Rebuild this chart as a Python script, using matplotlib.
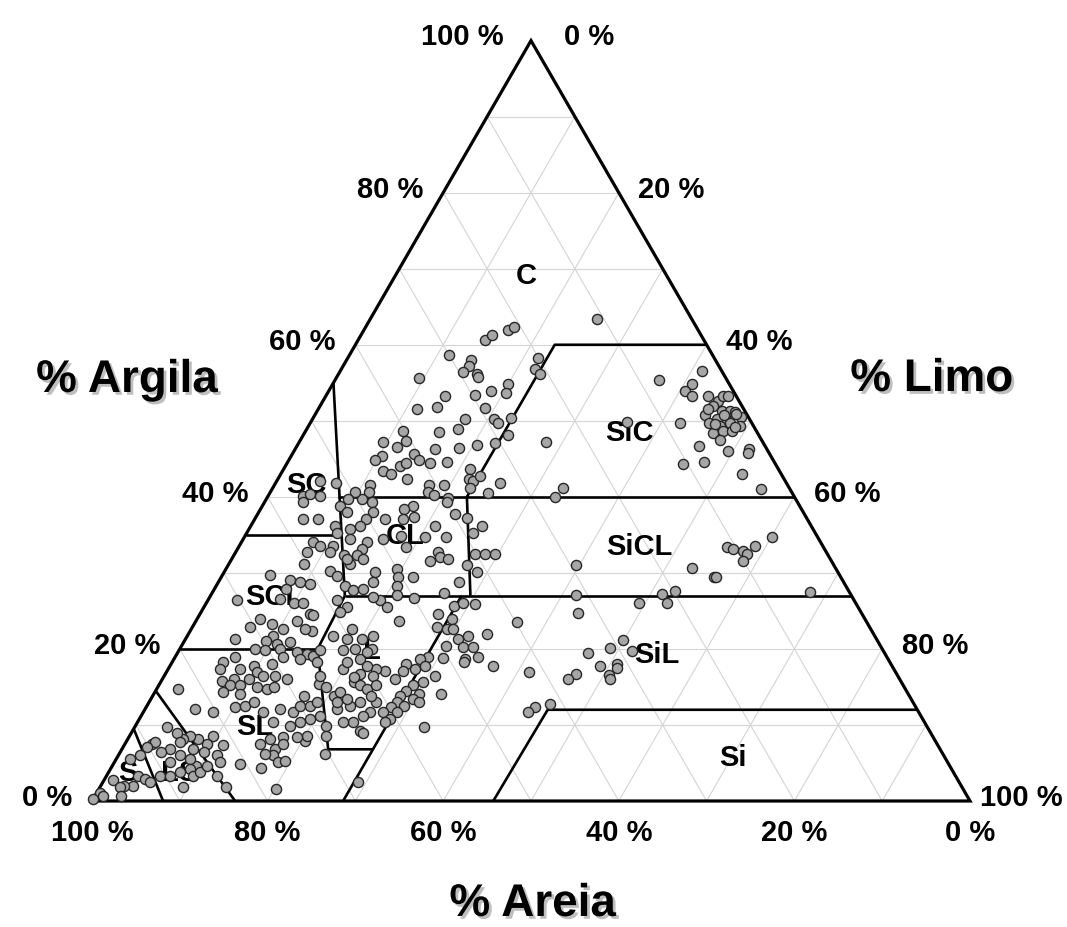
import numpy as np
import matplotlib
matplotlib.use("Agg")
import matplotlib.pyplot as plt
import matplotlib.patheffects as pe

plt.rcParams['font.family'] = ['Liberation Sans', 'DejaVu Sans']

# soil samples as (clay %, silt %); sand = 100 - clay - silt
clay_samples = [
    (60.6, 14.5), (61.3, 14.9), (61.9, 16.4), (62.4, 16.9), (63.4, 25.8), (58.6, 11.4),
    (58.0, 14.2), (57.2, 14.3), (56.4, 14.0), (56.2, 15.7), (55.7, 16.1), (58.2, 21.7),
    (56.8, 22.1), (56.2, 22.9), (55.6, 9.5), (54.9, 19.9), (53.6, 20.4), (53.4, 16.9),
    (53.9, 18.5), (53.3, 13.6), (51.5, 11.3), (51.8, 13.4), (51.7, 18.9), (50.3, 17.3),
    (48.9, 17.2), (50.3, 20.6), (49.7, 21.4), (50.4, 22.5), (48.1, 23.3), (47.2, 28.1),
    (48.5, 15.3), (48.7, 11.1), (47.4, 12.1), (47.2, 9.5), (46.5, 11.5), (45.4, 10.3),
    (44.8, 9.8), (43.4, 11.5), (43.0, 12.6), (44.1, 13.0), (44.5, 13.5), (45.7, 13.8),
    (44.8, 14.8), (44.5, 16.2), (46.3, 15.9), (44.6, 18.1), (46.4, 18.6), (46.8, 20.4),
    (47.1, 22.4), (43.7, 21.2), (42.4, 21.7), (42.1, 22.3), (42.8, 22.8), (41.1, 22.5),
    (41.8, 25.6), (40.5, 24.9), (40.0, 32.7), (41.1, 33.1), (42.4, 14.7), (41.5, 17.6),
    (41.5, 19.3), (40.6, 18.0), (40.2, 18.8), (39.8, 20.7), (39.3, 20.8), (37.8, 22.4),
    (37.2, 24.1), (36.2, 26.3), (35.3, 25.7), (32.5, 27.4), (32.5, 28.5), (32.5, 29.6),
    (31.0, 27.2), (30.1, 28.8), (34.7, 20.6), (36.2, 21.0), (34.7, 23.0), (32.7, 23.1),
    (32.1, 23.6), (31.6, 22.7), (31.8, 24.7), (38.8, 17.2), (38.4, 16.3), (37.3, 18.0),
    (37.1, 16.9), (33.4, 19.1), (34.9, 17.8), (34.5, 15.9), (37.1, 14.8), (41.5, 10.9),
    (40.6, 11.2), (39.7, 10.9), (39.3, 12.2), (38.0, 13.0), (37.1, 12.7), (36.2, 12.4),
    (34.0, 14.3), (33.2, 14.1), (32.3, 14.0), (31.2, 13.8), (31.8, 15.0), (30.1, 17.2),
    (30.5, 19.5), (29.4, 21.9), (38.8, 8.8), (38.0, 10.0), (36.2, 9.6), (35.3, 10.2),
    (35.8, 11.5), (34.5, 12.1), (32.3, 12.5), (33.6, 10.7), (32.7, 10.8), (37.1, 7.2),
    (34.0, 8.2), (33.6, 9.2), (32.7, 8.1), (37.1, 5.5), (40.1, 4.0), (42.1, 4.9),
    (41.8, 6.9), (40.6, 9.6), (39.7, 9.3), (40.4, 4.6), (40.1, 5.9), (39.3, 4.4),
    (31.2, 8.5), (31.8, 13.1),
]

silty_clay_samples = [
    (56.6, 41.2), (55.4, 36.9), (54.9, 40.85), (53.9, 40.6), (53.2, 41.7), (49.9, 36.0),
    (49.7, 42.1), (46.7, 45.75), (44.3, 45.15), (44.6, 47.4), (46.05, 49.4), (46.3, 51.65),
    (45.8, 51.8), (43.0, 52.5), (41.05, 55.7), (53.2, 43.6), (52.6, 45.0), (53.3, 45.25),
    (53.2, 45.8), (52.0, 44.7), (51.3, 46.1), (51.3, 47.05), (51.2, 47.6), (50.8, 44.4),
    (50.3, 46.05), (50.0, 47.3), (50.5, 48.65), (49.7, 45.45), (49.3, 46.85), (49.7, 47.85),
    (49.3, 49.15), (48.4, 46.5), (48.7, 47.55), (48.7, 48.55), (47.5, 47.75), (50.9, 47.85),
    (50.7, 46.6), (49.6, 46.2), (49.2, 48.6), (51.6, 44.4),
    (33.4, 55.6), (33.2, 56.4), (32.9, 57.65), (33.55, 58.7), (34.7, 60.05), (32.5, 58.35),
]

loam_samples = [
    (30.3, 11.95), (29.4, 20.2), (28.8, 27.4), (28.3, 20.55), (27.1, 21.15), (26.4, 19.6),
    (25.5, 20.85), (26.7, 23.35), (27.3, 26.45), (25.7, 28.35), (26.1, 29.25), (25.9, 30.65),
    (22.4, 13.8), (23.7, 23.15), (24.6, 27.1), (22.9, 27.85), (22.6, 29.1), (23.9, 29.05),
    (22.6, 29.8), (21.75, 16.6), (21.3, 20.05), (20.0, 19.95), (20.0, 21.9), (21.3, 31.05),
    (21.75, 32.0), (20.2, 32.2), (20.2, 33.3), (18.9, 34.55), (20.35, 30.2), (18.8, 30.6),
    (18.7, 33.15), (18.25, 33.2), (19.0, 28.8), (18.7, 28.0), (18.0, 26.8), (17.4, 28.1),
    (17.8, 29.0), (17.1, 26.9), (16.05, 26.5), (17.1, 24.8), (17.4, 23.7), (16.4, 30.9),
    (15.6, 29.9), (15.2, 29.0), (14.1, 30.15), (14.5, 28.55), (13.85, 28.2), (14.1, 32.75),
    (13.0, 28.2), (12.3, 27.95), (11.7, 27.35), (12.5, 29.25), (13.4, 29.9), (13.0, 30.7),
    (11.7, 28.85), (10.8, 28.5), (10.35, 28.2), (15.6, 22.0), (16.7, 22.15), (15.2, 22.9),
    (14.7, 23.95), (12.1, 21.85), (12.5, 23.15), (11.7, 25.85), (11.2, 25.3), (10.35, 24.6),
    (10.35, 23.4), (9.2, 25.9), (9.0, 26.4), (15.4, 18.1), (13.0, 25.9), (7.9, 20.3),
    (9.7, 32.95), (2.5, 29.1),
]

sandy_samples = [
    (29.7, 5.4), (29.0, 8.1), (28.8, 9.3), (28.6, 10.5), (27.9, 8.2), (26.6, 8.1),
    (26.1, 9.9), (26.1, 11.0), (26.4, 3.3), (23.9, 7.2), (23.3, 8.8), (22.9, 6.5),
    (24.6, 12.5), (24.4, 13.0), (23.7, 11.5), (22.6, 13.0), (22.6, 10.5), (21.75, 9.7),
    (29.6, 13.1), (28.3, 14.7), (27.7, 15.9), (27.9, 16.95), (28.8, 17.6), (26.8, 18.6),
    (26.4, 14.7), (25.5, 16.25), (24.8, 15.8), (21.3, 5.6), (21.1, 9.3), (20.7, 10.7),
    (20.9, 12.1), (20.0, 8.6), (19.8, 9.8), (20.0, 11.4), (18.9, 12.35), (18.0, 11.5),
    (19.6, 13.5), (19.3, 14.8), (19.1, 15.65), (19.8, 16.1), (18.25, 16.5), (18.7, 14.35),
    (19.0, 6.8), (17.8, 9.5), (18.25, 5.8), (17.4, 5.9), (17.4, 8.2), (16.9, 10.3),
    (16.5, 11.25), (16.5, 12.6), (16.05, 14.2), (16.05, 9.8), (16.05, 8.1), (15.8, 6.9),
    (15.2, 8.1), (15.2, 9.3), (14.95, 11.3), (14.7, 12.55), (14.95, 13.3), (14.1, 9.85),
    (14.3, 7.8), (16.5, 17.7), (14.95, 19.2), (13.85, 20.6), (14.3, 21.1), (13.0, 21.4),
    (13.4, 22.3), (13.0, 24.0), (13.85, 24.8), (16.25, 21.7), (17.4, 19.9), (18.25, 19.9),
    (18.7, 21.15), (17.8, 22.4), (16.5, 23.8), (15.2, 24.8), (21.3, 18.35), (19.8, 18.7),
    (22.6, 18.3), (19.6, 21.5), (21.75, 21.1), (14.7, 2.5), (12.1, 5.7), (11.7, 7.9),
    (12.3, 10.1), (12.5, 11.2), (13.0, 11.9), (11.7, 13.65), (12.1, 15.35), (11.7, 17.05),
    (12.5, 17.45), (13.85, 17.2), (12.5, 18.55), (13.0, 19.1), (10.8, 19.4), (10.35, 18.5),
    (9.9, 17.6), (10.35, 15.4), (11.2, 20.4), (9.9, 21.75), (8.6, 22.4), (6.2, 23.4),
    (8.6, 20.15), (8.4, 19.1), (8.4, 17.6), (8.2, 16.2), (7.5, 15.35), (6.8, 17.4),
    (7.5, 18.05), (6.0, 17.6), (6.2, 16.6), (4.4, 17.1), (5.1, 18.65), (5.2, 19.4),
    (4.9, 14.4), (1.8, 14.4), (1.6, 20.2), (3.3, 12.55), (6.0, 11.2), (7.3, 11.3),
    (8.6, 9.5), (7.5, 9.3), (8.2, 8.0), (8.6, 6.9), (8.2, 6.3), (9.0, 5.15),
    (7.7, 6.15), (6.8, 8.1), (6.4, 9.5), (5.1, 12.0), (4.6, 9.6), (5.5, 8.4),
    (6.0, 7.0), (6.8, 5.5), (6.4, 4.7), (9.7, 3.65), (7.5, 3.05), (7.7, 3.35),
    (7.05, 2.7), (6.0, 2.5), (5.5, 1.6), (3.3, 3.6), (2.9, 4.6), (2.0, 3.7),
    (2.0, 2.6), (2.7, 1.05), (1.8, 2.3), (0.7, 3.0), (1.1, 0.35), (0.3, 0.0),
    (0.7, 0.95), (2.5, 5.35), (3.3, 6.1), (3.3, 7.2), (3.75, 8.1), (4.2, 9.1),
    (3.3, 9.9), (3.75, 10.4), (4.6, 10.8), (1.8, 9.5), (5.1, 6.35),
]

silt_loam_samples = [
    (31.05, 39.6), (30.6, 53.0), (29.4, 56.1), (29.4, 56.4), (31.6, 58.4), (27.1, 41.55),
    (27.2, 51.3), (27.6, 52.6), (26.05, 52.5), (26.1, 49.25), (27.5, 68.0), (24.7, 43.05),
    (23.6, 36.6), (22.0, 33.95), (21.2, 49.9), (19.75, 51.6), (20.1, 48.95), (19.4, 46.8),
    (17.7, 49.0), (18.0, 50.8), (17.5, 51.0), (16.6, 50.6), (16.1, 51.0), (16.7, 46.75),
    (16.05, 46.2), (17.0, 41.3), (17.8, 36.8), (12.75, 45.8), (12.3, 44.3), (11.75, 43.8),
]

# texture class boundaries as drawn, (clay %, silt %) vertices
boundaries = [
    [(55.0, 0.0), (27.0, 15.3)],
    [(35.0, 0.0), (35.0, 10.9)],
    [(40.0, 8.0), (40.0, 60.0)],
    [(40.0, 22.7), (60.0, 22.7), (60.0, 40.0)],
    [(40.0, 22.7), (27.0, 29.6)],
    [(27.0, 15.3), (27.0, 73.0)],
    [(20.0, 0.0), (20.0, 15.7)],
    [(27.0, 15.3), (20.0, 15.7), (6.8, 23.5), (6.8, 28.6)],
    [(27.0, 28.6), (0.0, 28.6)],
    [(0.0, 45.7), (12.0, 45.9), (12.0, 88.0)],
    [(14.5, 0.0), (0.0, 16.3)],
    [(9.5, 0.0), (0.0, 8.1)],
]

class_names = ["C", "SiC", "SC", "CL", "SiCL", "SCL", "L", "SiL", "SL", "Si", "S", "LS"]
class_clay = [69.2, 48.5, 41.7, 35.0, 33.5, 27.0, 19.9, 19.3, 9.9, 5.8, 3.8, 3.8]
class_silt = [14.9, 37.0, 3.6, 18.2, 45.6, 7.3, 21.9, 54.7, 13.6, 70.1, 2.2, 8.1]

ticks = [0, 20, 40, 60, 80, 100]


def tern(clay, silt):
    clay = np.asarray(clay, dtype=float)
    silt = np.asarray(silt, dtype=float)
    return silt + clay / 2.0, clay * np.sqrt(3) / 2.0


fig = plt.figure(figsize=(10.67, 9.28), dpi=100)
ax = fig.add_axes([0, 0, 1, 1])
ax.set_xlim(-92 / 8.78, 975 / 8.78)
ax.set_ylim(-126 / 8.78, 802 / 8.78)
ax.axis("off")

# light grid every 10 %
grid_kw = dict(color="#d4d4d4", lw=0.8, zorder=1)
for v in range(10, 100, 10):
    x, y = tern([v, v], [0, 100 - v])           # clay constant
    ax.plot(x, y, **grid_kw)
    x, y = tern([0, 100 - v], [v, v])           # silt constant
    ax.plot(x, y, **grid_kw)
    x, y = tern([0, 100 - v], [100 - v, 0])     # sand constant
    ax.plot(x, y, **grid_kw)

for line in boundaries:
    c, s = zip(*line)
    x, y = tern(c, s)
    ax.plot(x, y, color="black", lw=1.9, solid_capstyle="butt", zorder=3)

x, y = tern([0, 0, 100, 0], [0, 100, 0, 0])
ax.plot(x, y, color="black", lw=2.3, solid_joinstyle="miter", zorder=4)

for name, c, s in zip(class_names, class_clay, class_silt):
    x, y = tern(c, s)
    ax.text(x, y, name, fontsize=21, fontweight="bold", ha="center", va="center", zorder=5)

groups = [clay_samples, silty_clay_samples, loam_samples, sandy_samples, silt_loam_samples]
for grp in groups:
    c, s = zip(*grp)
    x, y = tern(c, s)
    ax.plot(x, y, "o", ms=7.3, mfc="#a6a6a6", mec="#262626", mew=1.0, ls="none", zorder=6)

lab_kw = dict(fontsize=21, fontweight="bold", textcoords="offset points", zorder=7)
for t in ticks:
    # clay on the left side, silt on the right side (apex labels sit further out)
    x, y = tern(t, 0)
    dx = -20 if t == 100 else -14
    ax.annotate(f"{t} %", (x, y), xytext=(dx, 3), ha="right", va="center", **lab_kw)
    x, y = tern(100 - t, t)
    dx = {0: 24, 100: 7}.get(t, 14)
    ax.annotate(f"{t} %", (x, y), xytext=(dx, 3), ha="left", va="center", **lab_kw)
    # sand along the base
    x, y = tern(0, 100 - t)
    ax.annotate(f"{t} %", (x, y), xytext=(0, -22), ha="center", va="center", **lab_kw)

shadow = [pe.SimplePatchShadow(offset=(2, -2), shadow_rgbFace="#7f7f7f", alpha=0.5), pe.Normal()]
title_kw = dict(fontsize=33, fontweight="bold", ha="center", va="center", path_effects=shadow)
ax.text(3.99, 47.95, "% Argila", **title_kw)
ax.text(95.67, 48.06, "% Limo", **title_kw)
ax.text(50.2, -11.73, "% Areia", **title_kw)

fig.savefig("out.png", dpi=100)
